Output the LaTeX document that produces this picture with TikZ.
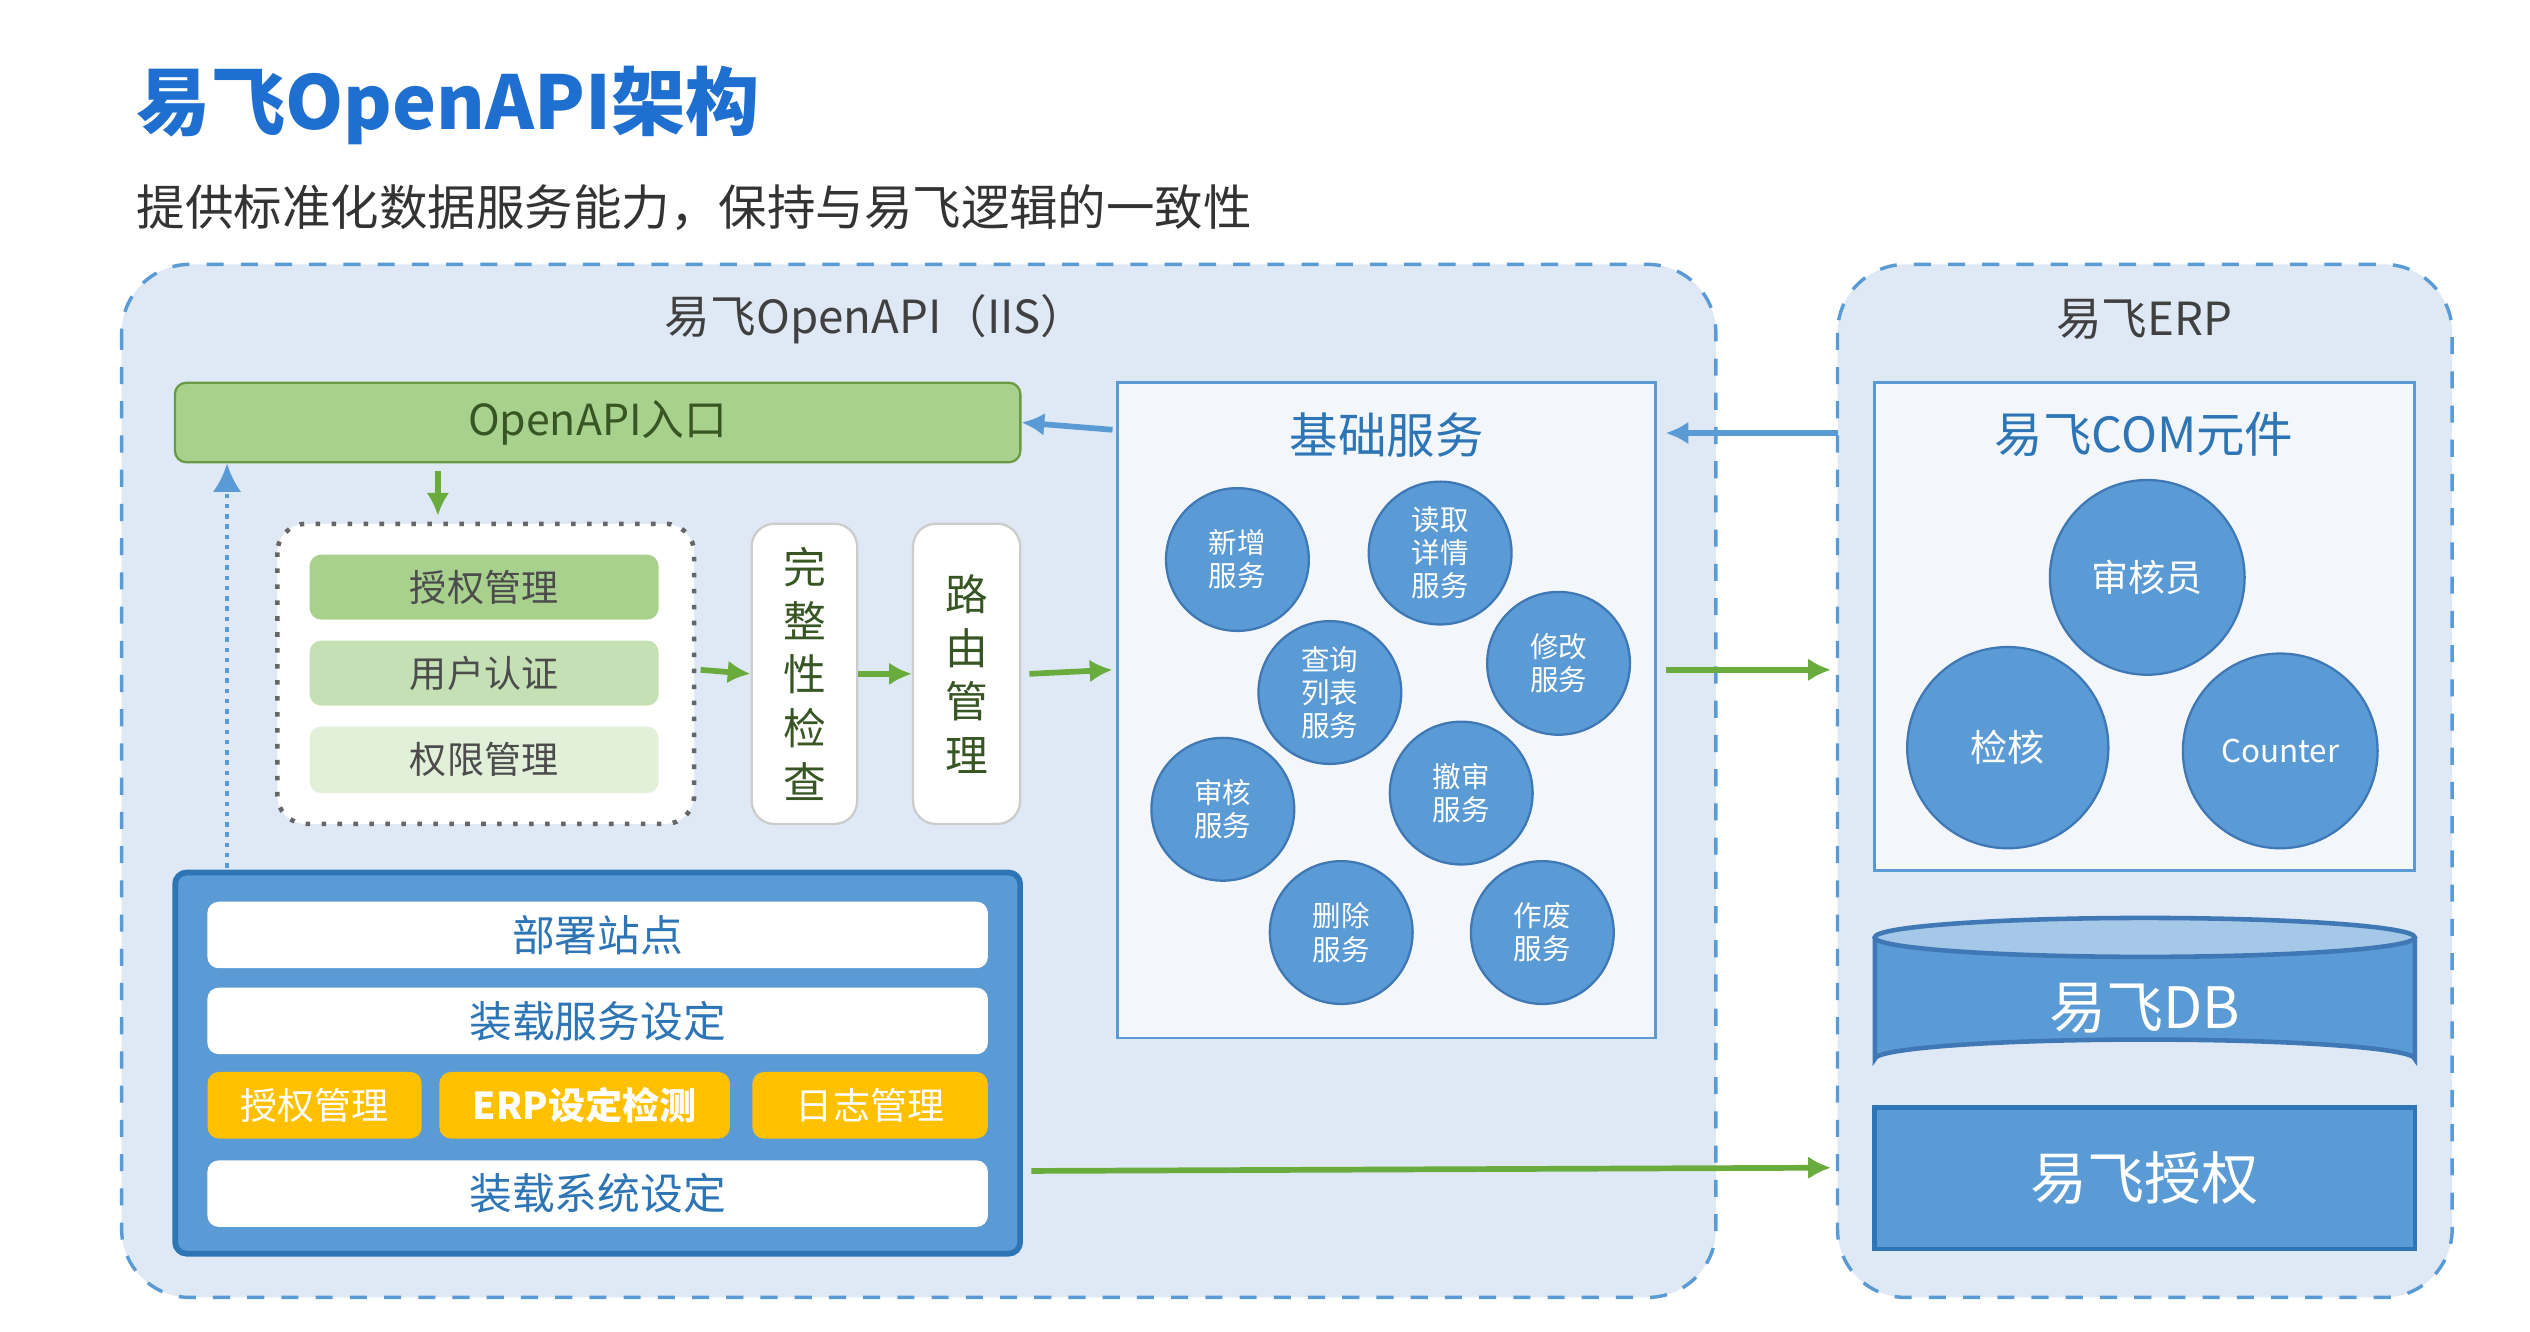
\documentclass[tikz,border=0pt]{standalone}
\usepackage{fontspec}
\setmainfont{Noto Sans CJK SC}
\usetikzlibrary{arrows.meta,shapes.geometric}
\definecolor{titleblue}{HTML}{1F6FD1}
\definecolor{areafill}{HTML}{DEE9F5}
\definecolor{areaedge}{HTML}{5B9BD5}
\definecolor{paleblue}{HTML}{F3F7FC}
\definecolor{midblue}{HTML}{5B9BD5}
\definecolor{darkblue}{HTML}{2E75B6}
\definecolor{circedge}{HTML}{3F78B5}
\definecolor{green1}{HTML}{A9D18E}
\definecolor{green2}{HTML}{C5E0B4}
\definecolor{green3}{HTML}{E2F0D9}
\definecolor{greenedge}{HTML}{6A9A45}
\definecolor{greentext}{HTML}{375623}
\definecolor{arrowgreen}{HTML}{6AAB3E}
\definecolor{orangefill}{HTML}{FFC000}
\tikzset{
    area/.style = {draw=areaedge, dashed, fill=areafill, rounded corners=12pt, line width=0.6pt},
    panel/.style = {draw=areaedge, fill=paleblue, line width=0.5pt},
    gbox/.style = {rectangle, rounded corners=2pt, inner sep=0pt, font=\fontsize{6.5}{7}\selectfont, text=black!70},
    wbar/.style = {rectangle, fill=white, rounded corners=2pt, inner sep=0pt, minimum width=4.81cm, minimum height=0.41cm, text=darkblue, font=\fontsize{7.5}{8}\selectfont},
    obox/.style = {rectangle, fill=orangefill, rounded corners=2pt, inner sep=0pt, minimum height=0.41cm, text=white, font=\fontsize{6.5}{7}\selectfont},
    vbox/.style = {rectangle, draw=black!20, fill=white, rounded corners=4pt, inner sep=0pt, minimum width=0.65cm, minimum height=1.85cm, text=greentext, font=\fontsize{7.5}{9.4}\selectfont, align=center},
    svc/.style = {circle, draw=circedge, fill=midblue, minimum size=0.88cm, inner sep=0pt, text=white, align=center, font=\fontsize{5}{5.8}\selectfont},
    comp/.style = {circle, draw=circedge, fill=midblue, inner sep=0pt, text=white, font=\fontsize{6.5}{7}\selectfont},
    head/.style = {font=\fontsize{8}{9}\selectfont, text=black!75},
    garrow/.style = {draw=arrowgreen, line width=1pt, -{Latex[length=4pt,width=4pt]}},
    barrow/.style = {draw=midblue, line width=1pt, -{Latex[length=4pt,width=4pt]}}
}
\begin{document}
\begin{tikzpicture}[x=0.01cm,y=-0.01cm]
\useasboundingbox (0,0) rectangle (1560,821);
\fill[white] (0,0) rectangle (1560,821);
% titles
\node[anchor=west, text=titleblue, font=\fontsize{13}{14}\selectfont\bfseries] (title) at (72,65) {易飞OpenAPI架构};
\node[anchor=west, text=black!80, font=\fontsize{8.5}{9}\selectfont] (subtitle) at (72,128) {提供标准化数据服务能力，保持与易飞逻辑的一致性};
% outer areas
\draw[area] (75,163) rectangle (1058,800);
\draw[area] (1133,163) rectangle (1512,800);
\node[head] (iis) at (540,197) {易飞OpenAPI（IIS）};
\node[head] (erp) at (1322,197) {易飞ERP};
% entry
\node[gbox, draw=greenedge, fill=green1, minimum width=5.21cm, minimum height=0.49cm, text=greentext, font=\fontsize{7.5}{8}\selectfont] (entry) at (368.5,260.5) {OpenAPI入口};
% auth group
\draw[black!60, dotted, line width=0.8pt, fill=white, rounded corners=5pt] (171,323) rectangle (428,508);
\node[gbox, fill=green1, minimum width=2.15cm, minimum height=0.40cm] (auth) at (298.5,362) {授权管理};
\node[gbox, fill=green2, minimum width=2.15cm, minimum height=0.40cm] (user) at (298.5,415) {用户认证};
\node[gbox, fill=green3, minimum width=2.15cm, minimum height=0.41cm] (perm) at (298.5,468.5) {权限管理};
\coordinate (grpright) at (432,413);
\coordinate (grptop) at (270,318);
\node[vbox] (check) at (496,415.5) {完\\整\\性\\检\\查};
\node[vbox, minimum width=0.66cm] (route) at (596,415.5) {路\\由\\管\\理};
% deploy block
\draw[darkblue, fill=midblue, line width=1pt, rounded corners=2pt] (108,538) rectangle (629,773);
\node[wbar] (site) at (368.5,576.5) {部署站点};
\node[wbar] (svcset) at (368.5,629.5) {装载服务设定};
\node[obox, minimum width=1.32cm] (oauth) at (194,681.5) {授权管理};
\node[obox, minimum width=1.79cm, font=\fontsize{6.5}{7}\selectfont\bfseries] (ocheck) at (360.5,681.5) {ERP设定检测};
\node[obox, minimum width=1.45cm] (olog) at (536.5,681.5) {日志管理};
\node[wbar] (sysset) at (368.5,736) {装载系统设定};
\coordinate (deploytop) at (140,535);
\coordinate (deployright) at (636,722);
% base services
\draw[panel] (689,236) rectangle (1021,640);
\node[head, text=darkblue, font=\fontsize{8.5}{9}\selectfont] (base) at (855,268) {基础服务};
\coordinate (baseleft) at (686,265);
\coordinate (basein) at (686,413);
\coordinate (baseright) at (1027,413);
\coordinate (basetop) at (1027,267);
\node[svc] (add) at (763,345) {新增\\服务};
\node[svc] (read) at (888,341) {读取\\详情\\服务};
\node[svc] (edit) at (961,409) {修改\\服务};
\node[svc] (query) at (820,427) {查询\\列表\\服务};
\node[svc] (audit) at (754,499) {审核\\服务};
\node[svc] (unaudit) at (901,489) {撤审\\服务};
\node[svc] (del) at (827,575) {删除\\服务};
\node[svc] (void) at (951,575) {作废\\服务};
% ERP side
\draw[panel] (1156,236) rectangle (1489,537);
\node[head, text=darkblue, font=\fontsize{8.5}{9}\selectfont] (com) at (1322,268) {易飞COM元件};
\coordinate (comleft) at (1133,267);
\node[comp, minimum size=1.2cm] (auditor) at (1324,356) {审核员};
\node[comp, minimum size=1.24cm] (verify) at (1238,461) {检核};
\node[comp, minimum size=1.2cm, font=\fontsize{5.5}{6}\selectfont] (counter) at (1406,463) {Counter};
\coordinate (erpin) at (1129,413);
\coordinate (erplow) at (1129,720);
% database
\draw[circedge, fill=midblue, line width=0.8pt] (1156,578) -- (1156,653) arc[start angle=180, end angle=360, x radius=166.5, y radius=12] -- (1489,578);
\draw[circedge, fill=areaedge!55, line width=0.8pt] (1322.5,578) ellipse[x radius=166.5, y radius=12];
\node[text=white, font=\fontsize{10}{11}\selectfont] (db) at (1322.5,622) {易飞DB};
\node[rectangle, draw=darkblue, fill=midblue, line width=0.8pt, minimum width=3.33cm, minimum height=0.87cm, inner sep=0pt, text=white, font=\fontsize{10}{11}\selectfont] (license) at (1322.5,726.5) {易飞授权};
% connectors
\draw[garrow] (entry.south -| grptop) ++(0,5) -- (grptop);
\draw[garrow] (grpright) -- (check.west);
\draw[garrow] (check.east) -- (route.west);
\draw[garrow] (route.east) ++(5,0) -- (basein);
\draw[garrow] (baseright) -- (erpin);
\draw[garrow] (deployright) -- (erplow);
\draw[barrow] (baseleft) -- (entry.east);
\draw[barrow] (comleft) -- (basetop);
\draw[midblue, line width=0.8pt, densely dotted, -{Latex[length=5pt,width=5pt]}] (deploytop) -- (deploytop |- entry.south);
\end{tikzpicture}
\end{document}
